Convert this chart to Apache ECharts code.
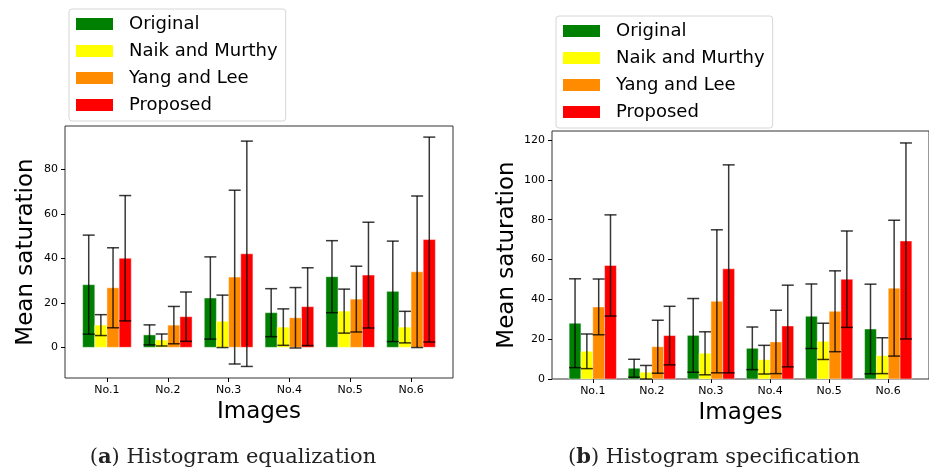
<!DOCTYPE html>
<html><head><meta charset="utf-8">
<script src="https://cdn.jsdelivr.net/npm/echarts@6/dist/echarts.min.js"></script>
<style>html,body{margin:0;padding:0;background:#fff}#c{width:929px;height:474px}</style>
</head><body><div id="c"></div>
<script>
const categories = ['No.1', 'No.2', 'No.3', 'No.4', 'No.5', 'No.6'];
const methods = ['Original', 'Naik and Murthy', 'Yang and Lee', 'Proposed'];

// (a) Histogram equalization: means and standard deviations
const heOriginal = [28.2, 5.6, 22.2, 15.6, 31.8, 25.2];
const heOriginalStd = [22.3, 4.5, 18.5, 10.8, 16.2, 22.6];
const heNaik = [10.0, 3.3, 11.7, 9.1, 16.3, 9.1];
const heNaikStd = [4.7, 2.7, 11.8, 8.2, 9.9, 7.1];
const heYang = [26.8, 10.0, 31.6, 13.3, 21.7, 34.0];
const heYangStd = [18.0, 8.4, 39.1, 13.6, 14.8, 34.1];
const heProposed = [40.1, 13.8, 42.1, 18.3, 32.5, 48.5];
const heProposedStd = [28.2, 11.1, 50.7, 17.5, 23.8, 46.1];

// (b) Histogram specification
const hsOriginal = [28.0, 5.4, 21.9, 15.4, 31.5, 25.1];
const hsOriginalStd = [22.3, 4.5, 18.5, 10.7, 16.2, 22.5];
const hsNaik = [13.9, 3.4, 12.9, 9.7, 18.9, 11.7];
const hsNaikStd = [8.7, 3.4, 10.8, 7.2, 9.1, 9.0];
const hsYang = [36.2, 16.2, 39.0, 18.6, 34.0, 45.6];
const hsYangStd = [14.0, 13.3, 35.9, 15.9, 20.3, 34.1];
const hsProposed = [57.0, 21.8, 55.3, 26.6, 50.1, 69.3];
const hsProposedStd = [25.4, 14.7, 52.2, 20.5, 24.2, 49.2];

const leftTicks = [0, 20, 40, 60, 80];
const rightTicks = [0, 20, 40, 60, 80, 100, 120];
const catTicks = [0, 1, 2, 3, 4, 5];

const colors = ['#008000', '#ffff00', '#ff8c00', '#ff0000'];
const errColor = 'rgba(0,0,0,0.78)';
const FONT = 'DejaVu Sans';

const heSets = [[heOriginal, heOriginalStd], [heNaik, heNaikStd], [heYang, heYangStd], [heProposed, heProposedStd]];
const hsSets = [[hsOriginal, hsOriginalStd], [hsNaik, hsNaikStd], [hsYang, hsYangStd], [hsProposed, hsProposedStd]];

function barSeries(g, k, means, stds) {
  return {
    type: 'custom', name: methods[k], xAxisIndex: g, yAxisIndex: g, z: 2,
    itemStyle: { color: colors[k] },
    data: means.map((m, i) => [i, m, stds[i]]),
    renderItem(params, api) {
      const cx = api.value(0) + (k - 1.5) * 0.2;
      const p1 = api.coord([cx - 0.1, api.value(1)]);
      const p2 = api.coord([cx + 0.1, 0]);
      return {
        type: 'rect',
        shape: { x: p1[0], y: p1[1], width: p2[0] - p1[0], height: p2[1] - p1[1] },
        style: { fill: colors[k], stroke: 'rgba(255,255,255,0.45)', lineWidth: 1 }
      };
    }
  };
}
function errSeries(g, k, means, stds) {
  return {
    type: 'custom', name: 'err' + g + '_' + k, xAxisIndex: g, yAxisIndex: g, z: 3, silent: true,
    data: means.map((m, i) => [i, m, stds[i]]),
    renderItem(params, api) {
      const cx = api.value(0) + (k - 1.5) * 0.2;
      const m = api.value(1), s = api.value(2);
      const t = api.coord([cx, m + s]);
      const b = api.coord([cx, m - s]);
      const hw = 6;
      const st = { stroke: errColor, lineWidth: 1.5 };
      return {
        type: 'group', children: [
          { type: 'line', shape: { x1: t[0], y1: t[1], x2: b[0], y2: b[1] }, style: st },
          { type: 'line', shape: { x1: t[0] - hw, y1: t[1], x2: t[0] + hw, y2: t[1] }, style: st },
          { type: 'line', shape: { x1: b[0] - hw, y1: b[1], x2: b[0] + hw, y2: b[1] }, style: st }
        ]
      };
    }
  };
}

function xAxisCfg(g) {
  return {
    gridIndex: g, type: 'value', min: -0.69, max: 5.69,
    axisLine: { show: false, onZero: false },
    axisTick: { show: true, customValues: catTicks, length: 4, lineStyle: { color: '#000', width: 1 } },
    axisLabel: { customValues: catTicks, formatter: v => categories[Math.round(v)], fontSize: 11, fontFamily: FONT, color: '#000', margin: 7 },
    splitLine: { show: false },
    name: 'Images', nameLocation: 'middle', nameGap: 20,
    nameTextStyle: { fontSize: 23, fontFamily: FONT, color: '#000' }
  };
}
function yAxisCfg(g, min, max, ticks, gap) {
  return {
    gridIndex: g, type: 'value', min: min, max: max,
    axisLine: { show: false, onZero: false },
    axisTick: { show: true, customValues: ticks, length: 4, lineStyle: { color: '#000', width: 1 } },
    axisLabel: { customValues: ticks, fontSize: 11, fontFamily: FONT, color: '#000', margin: 7 },
    splitLine: { show: false },
    name: 'Mean saturation', nameLocation: 'middle', nameGap: gap,
    nameTextStyle: { fontSize: 23, fontFamily: FONT, color: '#000' }
  };
}
function legendCfg(left, top) {
  return {
    left: left, top: top, orient: 'vertical', icon: 'rect', selectedMode: false,
    data: methods.map((n, k) => ({ name: n, itemStyle: { color: colors[k] } })),
    itemWidth: 37, itemHeight: 12, itemGap: 7,
    backgroundColor: '#fff', borderColor: '#d6d6d6', borderWidth: 1, borderRadius: 3,
    padding: [5, 8, 6, 7],
    textStyle: { fontFamily: FONT, fontSize: 18, color: '#000', lineHeight: 20, padding: [0, 0, 0, 11] }
  };
}

const series = [];
heSets.forEach((s, k) => series.push(barSeries(0, k, s[0], s[1])));
hsSets.forEach((s, k) => series.push(barSeries(1, k, s[0], s[1])));
heSets.forEach((s, k) => series.push(errSeries(0, k, s[0], s[1])));
hsSets.forEach((s, k) => series.push(errSeries(1, k, s[0], s[1])));

const chart = echarts.init(document.getElementById('c'));
chart.setOption({
  animation: false,
  backgroundColor: '#fff',
  grid: [
    { left: 65, top: 126, width: 388, height: 252, show: true, borderColor: '#333', borderWidth: 1, backgroundColor: 'transparent' },
    { left: 552, top: 131, width: 381, height: 248, show: true, borderColor: '#333', borderWidth: 1, backgroundColor: 'transparent' }
  ],
  xAxis: [xAxisCfg(0), xAxisCfg(1)],
  yAxis: [yAxisCfg(0, -13.8, 99.6, leftTicks, 27), yAxisCfg(1, 0, 124.5, rightTicks, 33)],
  legend: [legendCfg(69, 9), legendCfg(556, 16)],
  series: series,
  graphic: [
    { type: 'text', x: 233, y: 458, style: { text: '{n|(}{b|a}{n|) Histogram equalization}', align: 'center', verticalAlign: 'middle',
      rich: { n: { fontFamily: 'DejaVu Serif', fontSize: 21, fill: '#222' }, b: { fontFamily: 'DejaVu Serif', fontSize: 21, fontWeight: 'bold', fill: '#222' } } } },
    { type: 'text', x: 714, y: 458, style: { text: '{n|(}{b|b}{n|) Histogram specification}', align: 'center', verticalAlign: 'middle',
      rich: { n: { fontFamily: 'DejaVu Serif', fontSize: 21, fill: '#222' }, b: { fontFamily: 'DejaVu Serif', fontSize: 21, fontWeight: 'bold', fill: '#222' } } } }
  ]
});
</script></body></html>
